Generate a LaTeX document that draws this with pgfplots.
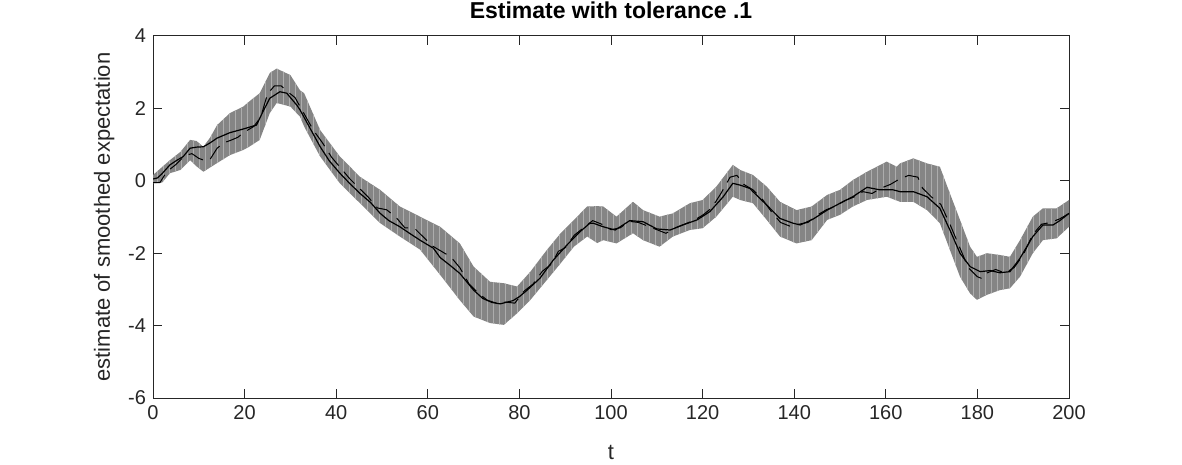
\documentclass[border=0pt]{standalone}
\usepackage{pgfplots}
\usepackage{pgfplotstable}
\pgfplotsset{compat=1.18}
\usetikzlibrary{patterns}
\usepackage{fontspec}
\setmainfont{Liberation Sans}
\definecolor{axisgray}{gray}{0.15}
\definecolor{bandgray}{gray}{0.52}
\definecolor{stripegray}{gray}{0.68}

% band outline: upper edge left to right, then lower edge right to left
\pgfplotstableread{
t y
0 0.16
3.7 0.57
6 0.8
8.1 1.13
9.5 1.1
11 0.94
12.5 1.2
14 1.54
16.8 1.87
19.7 2.05
21 2.19
23.3 2.42
25.5 2.98
27 3.1
30 2.92
32.1 2.5
33 2.42
36.5 1.4
40.8 0.67
45.2 0.11
49.6 -0.25
53.9 -0.71
58.3 -0.99
62.7 -1.27
67 -1.73
70 -2.37
73.6 -2.79
76.6 -2.83
79.5 -2.92
82.4 -2.51
86 -1.91
89 -1.45
91.9 -1.08
94.8 -0.71
97 -0.7
98.3 -0.71
101.2 -0.99
104.8 -0.58
107 -0.81
110.6 -0.99
113.5 -0.9
117.2 -0.62
120 -0.53
123 -0.16
126.6 0.44
128.2 0.3
131 0.16
134 -0.16
136.9 -0.58
140.5 -0.81
143.8 -0.71
147.2 -0.39
150 -0.25
152.8 0.02
155.9 0.25
160.2 0.53
162.4 0.39
163.1 0.48
166 0.62
169 0.48
171.8 0.39
174 -0.35
176.2 -1.08
178.4 -1.82
179.9 -2.1
182.1 -2.0
184.9 -2.05
187.1 -2.1
189.3 -1.64
192.1 -0.99
194.3 -0.76
197.3 -0.76
200 -0.53
200 -1.27
197.3 -1.59
194.3 -1.64
192.1 -2.0
189.3 -2.65
187.1 -2.97
184.9 -3.02
182.1 -3.15
179.9 -3.29
178.4 -3.11
176.2 -2.65
174 -1.91
171.8 -1.17
169 -0.81
166 -0.58
163.1 -0.58
160.2 -0.44
155.9 -0.53
152.8 -0.71
150 -0.94
147.2 -1.08
143.8 -1.64
140.5 -1.73
136.9 -1.54
134 -1.08
131 -0.62
128.2 -0.53
126.6 -0.44
123 -0.99
120 -1.31
117.2 -1.36
113.5 -1.54
110.6 -1.82
107 -1.64
104.8 -1.45
101.2 -1.73
98.3 -1.64
97 -1.72
94.8 -1.54
91.9 -1.82
89 -2.28
86 -2.74
82.4 -3.29
79.5 -3.66
76.6 -3.98
73.6 -3.93
70 -3.75
67 -3.3
62.7 -2.6
58.3 -1.9
53.9 -1.54
49.6 -1.17
45.2 -0.62
40.8 -0.07
36.5 0.67
33 1.5
32.1 1.77
30 2.05
27 2.15
25.5 1.87
23.3 1.13
21 0.94
19.7 0.85
16.8 0.71
14 0.49
11 0.25
9.5 0.4
8.1 0.57
6 0.3
3.7 0.21
2 -0.05
0 -0.07
}\band

\begin{document}
\begin{tikzpicture}
\path[use as bounding box] (-76.5pt,-33.5pt) rectangle (514.5pt,199pt);
\begin{axis}[
  at={(0,0)}, anchor=south west,
  scale only axis, width=458pt, height=181pt,
  xmin=0, xmax=200, ymin=-6, ymax=4,
  xtick={0,20,...,200}, ytick={-6,-4,...,4},
  tick align=inside, major tick length=4.5pt,
  xtick pos=both, ytick pos=both,
  axis line style={axisgray, line width=0.5pt},
  every tick/.style={axisgray, line width=0.5pt},
  tick label style={font=\fontsize{10}{12}\selectfont, text=axisgray},
  /pgf/number format/assume math mode=true,
  xlabel={t}, ylabel={estimate of smoothed expectation},
  label style={font=\fontsize{11}{13}\selectfont, text=axisgray},
  xlabel style={yshift=-6pt},
  ylabel style={yshift=0pt},
  title={\textbf{Estimate with tolerance .1}},
  title style={font=\fontsize{11.5}{13}\selectfont, yshift=-1pt},
]
% confidence band
\addplot[fill=bandgray, draw=none] table[x=t, y=y] {\band} --cycle;
\addplot[pattern=vertical lines, pattern color=stripegray, draw=none] table[x=t, y=y] {\band} --cycle;

% noisy estimate (dashed)
\addplot[black, line width=0.5pt, dash pattern=on 8pt off 4pt] coordinates {
(0,-0.05) (1.5,-0.05) (3,0.25) (5,0.45) (7,0.7) (8.5,0.75) (10,0.62) (11.5,0.55)
(12.5,0.6) (14,0.9) (15.5,1.05) (17,1.12) (18.5,1.2) (20,1.35) (22,1.5) (23.5,1.75)
(25,2.4) (26.5,2.62) (28,2.62) (29.5,2.45) (31,2.3) (33,1.85) (35,1.4) (37,1.05)
(39,0.65) (41,0.35) (43,0.05) (45,-0.2) (47,-0.45) (49,-0.75) (51,-0.8) (53,-1.0)
(55,-1.3) (57,-1.3) (59,-1.55) (61,-1.8) (63,-1.95) (65,-2.1) (67,-2.4) (69,-2.85)
(71,-3.1) (73,-3.3) (75,-3.38) (77,-3.35) (79,-3.38) (81,-3.05) (83,-2.85)
(85,-2.5) (87,-2.3) (88.5,-1.95) (90,-1.85) (92,-1.5) (94,-1.3) (96,-1.1)
(98,-1.2) (100,-1.35) (102,-1.3) (104,-1.12) (106,-1.15) (108,-1.25) (110,-1.35)
(112,-1.45) (114,-1.3) (116,-1.2) (118,-1.1) (120,-0.95) (122,-0.75) (124,-0.35)
(126,0.1) (127.5,0.15) (129,-0.1) (131,-0.25) (133,-0.5) (135,-0.85) (137,-1.15)
(139,-1.25) (141,-1.2) (143,-1.15) (145,-0.95) (147,-0.8) (149,-0.7) (151,-0.55)
(153,-0.45) (155,-0.3) (157,-0.35) (159,-0.2) (161,-0.1) (163,0.05) (165,0.15)
(167,0.1) (168,-0.2) (170,-0.45) (172,-0.65) (174,-1.2) (176,-1.8) (178,-2.4)
(180,-2.65) (181,-2.7) (182,-2.55) (184,-2.45) (186,-2.55) (188,-2.4) (190,-2.05)
(192,-1.5) (194,-1.2) (196,-1.15) (198,-1.05) (200,-0.9)
};

% smoothed expectation (solid)
\addplot[black, line width=0.6pt] coordinates {
(0,0.05) (1,0.08) (2,0.2) (3.7,0.44) (5,0.55) (6.6,0.67) (8.1,0.9) (9.5,0.93)
(11,0.94) (12.5,1.05) (14,1.18) (16.8,1.33) (19.7,1.43) (22.6,1.54) (24,1.91)
(25.5,2.28) (27.7,2.46) (29.2,2.42) (31.4,2.09) (32.1,1.96) (34.3,1.45) (36.5,0.94)
(38.5,0.55) (40.8,0.21) (43,-0.08) (45.2,-0.35) (47.5,-0.6) (49.6,-0.9)
(51.5,-1.1) (53.9,-1.27) (56,-1.45) (58.3,-1.64) (61.2,-1.86) (62.7,-2.12)
(65,-2.35) (67,-2.56) (70,-3.02) (72,-3.25) (74,-3.36) (75.8,-3.4) (78.6,-3.31)
(80,-3.2) (81.7,-3.02) (84.5,-2.69) (87.4,-2.19) (90.4,-1.77) (93.2,-1.41)
(95.4,-1.17) (96.1,-1.17) (98.3,-1.27) (100.9,-1.36) (104.1,-1.1) (107,-1.13)
(110,-1.33) (112.9,-1.36) (115.7,-1.22) (118.8,-1.08) (121.6,-0.85) (124.5,-0.44)
(126.6,-0.07) (128.2,-0.12) (130.3,-0.21) (131,-0.3) (134,-0.67) (136.9,-1.04)
(139.7,-1.17) (141.3,-1.22) (144.1,-1.06) (147.2,-0.81) (150,-0.62) (152.8,-0.44)
(155.9,-0.18) (158.7,-0.25) (161.6,-0.25) (163.1,-0.3) (166,-0.3) (169,-0.44)
(171.8,-0.76) (174,-1.36) (176.2,-2.0) (178.4,-2.37) (180.6,-2.51) (182.8,-2.48)
(184.9,-2.54) (187.1,-2.51) (189.3,-2.14) (192.1,-1.54) (194.3,-1.22)
(196.5,-1.22) (198,-1.1) (200,-0.9)
};
\end{axis}
\end{tikzpicture}
\end{document}
